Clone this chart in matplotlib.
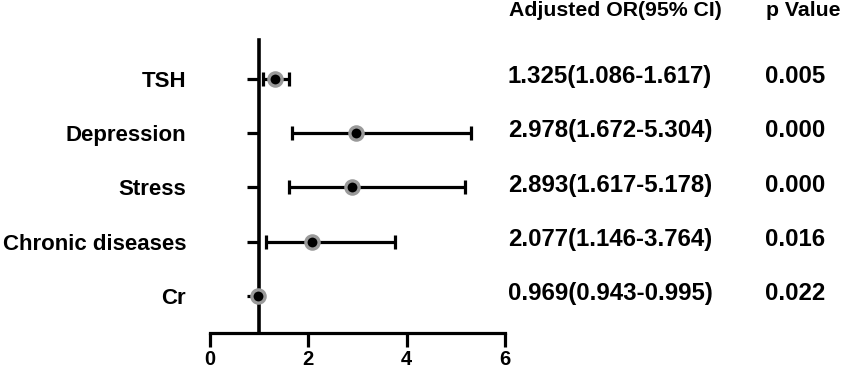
import matplotlib
matplotlib.use('Agg')
import matplotlib.pyplot as plt
import matplotlib.transforms as mtransforms

plt.rcParams['font.family'] = ['Liberation Sans', 'DejaVu Sans']
plt.rcParams['font.weight'] = 'bold'

# data, top row first
labels = ['TSH', 'Depression', 'Stress', 'Chronic diseases', 'Cr']
odds = [1.325, 2.978, 2.893, 2.077, 0.969]
lower = [1.086, 1.672, 1.617, 1.146, 0.943]
upper = [1.617, 5.304, 5.178, 3.764, 0.995]
pvals = ['0.005', '0.000', '0.000', '0.016', '0.022']
xticks = [0, 2, 4, 6]

fig = plt.figure(figsize=(8.54, 3.79), dpi=100)
ax = fig.add_axes([0.2459, 0.1214, 0.3454, 0.774])

n = len(labels)
ypos = list(range(n - 1, -1, -1))
err = [[o - l for o, l in zip(odds, lower)], [u - o for o, u in zip(odds, upper)]]

ax.errorbar(odds, ypos, xerr=err, fmt='none', ecolor='black', elinewidth=2.3,
            capsize=4.8, capthick=2.3, zorder=2)
ax.plot(odds, ypos, 'o', color='black', markersize=9.5, markeredgecolor='#9a9a9a',
        markeredgewidth=2.4, zorder=3)

# spine moved first, it resets the tick labels
ax.spines['top'].set_visible(False)
ax.spines['right'].set_visible(False)
ax.spines['left'].set_position(('data', 1))
ax.spines['left'].set_linewidth(2.6)
ax.spines['bottom'].set_linewidth(2.3)

ax.set_xlim(0, 6)
ax.set_ylim(-0.68, 4.72)
ax.set_xticks(xticks)
ax.set_xticklabels([str(t) for t in xticks])
ax.set_yticks(ypos)
ax.set_yticklabels(labels)
ax.tick_params(axis='y', length=8.6, width=2.3, pad=44, labelsize=16)
ax.tick_params(axis='x', length=10, width=2.3, pad=2, labelsize=14.5)

# right-hand text columns
trans = mtransforms.blended_transform_factory(fig.transFigure, ax.transData)
fig.text(509 / 854, 1 - 11 / 379, 'Adjusted OR(95% CI)', fontsize=15.3,
         fontweight='bold', va='center', ha='left')
fig.text(766 / 854, 1 - 11 / 379, 'p Value', fontsize=15.3,
         fontweight='bold', va='center', ha='left')
for y, o, l, u, p in zip(ypos, odds, lower, upper, pvals):
    ax.text(508 / 854, y + 0.04, '%.3f(%.3f-%.3f)' % (o, l, u), transform=trans,
            fontsize=17.3, fontweight='bold', va='center', ha='left', clip_on=False)
    ax.text(765 / 854, y + 0.04, p, transform=trans, fontsize=17.3,
            fontweight='bold', va='center', ha='left', clip_on=False)

plt.savefig('out.png', dpi=100)
